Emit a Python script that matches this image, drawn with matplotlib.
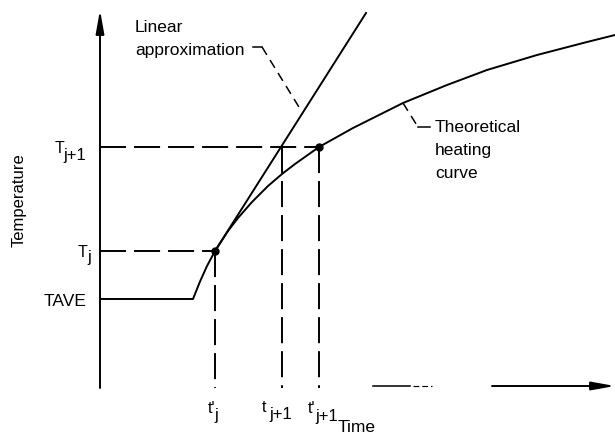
import matplotlib
matplotlib.use("Agg")
import matplotlib.pyplot as plt

# -----------------------------------
# FONTS
# -----------------------------------

plt.rcParams["font.family"] = ["Liberation Sans", "DejaVu Sans"]

# -----------------------------------
# HEATING CURVE (time, temperature)
# -----------------------------------

time_pts = [0, 93, 100, 107, 115, 128, 138, 152, 168, 182, 195,
            219, 253, 303, 347, 387, 437, 487, 515]
temp_pts = [88, 88, 105.5, 121, 136, 156, 169, 185, 201, 213, 223,
            240, 259, 284, 302, 317, 332, 345, 352]

# levels and times marked on the axes
T_ave = 88
T_j = 136
T_j1 = 240
t_j_prime = 115
t_j1 = 182
t_j1_prime = 219

# linear approximation: from (t_j', T_j) up to its top end
lin_time = [t_j_prime, 266]
lin_temp = [T_j, 374]

LW = 1.4
DASH = (0, (13.4, 4.1))
FS = 12.5

# -----------------------------------
# FIGURE
# -----------------------------------

fig = plt.figure(figsize=(6.15, 4.38), dpi=100)
ax = fig.add_axes([0, 0, 1, 1])
ax.set_xlim(-100, 515)
ax.set_ylim(-51, 387)
ax.axis("off")

# curve and tangent line
ax.plot(time_pts, temp_pts, color="black", lw=LW, solid_joinstyle="round")
ax.plot(lin_time, lin_temp, color="black", lw=LW)

# marked points
ax.plot([t_j_prime, t_j1_prime], [T_j, T_j1], "o", color="black",
        markersize=5)

# dashed guides to the axes
ax.plot([0, t_j1_prime], [T_j1, T_j1], color="black", lw=LW, linestyle=DASH)
ax.plot([0, t_j_prime], [T_j, T_j], color="black", lw=LW, linestyle=DASH)
for t, T in [(t_j_prime, T_j), (t_j1, T_j1), (t_j1_prime, T_j1)]:
    ax.plot([t, t], [T, -1], color="black", lw=LW, linestyle=DASH)

# -----------------------------------
# AXES WITH ARROWS
# -----------------------------------

arrow = dict(arrowstyle="-|>,head_length=1.4,head_width=0.25",
             color="black", lw=LW, mutation_scale=10,
             shrinkA=0, shrinkB=0)
ax.annotate("", xy=(0, 377), xytext=(0, -1), arrowprops=arrow)
ax.annotate("", xy=(515, 1), xytext=(392, 1), arrowprops=arrow)
ax.plot([273, 310], [1, 1], color="black", lw=LW * 0.8)
ax.plot([313, 332], [1, 1], color="black", lw=LW * 0.6,
        linestyle=(0, (5, 2.5)))


# letter with a lowered index beside it
def indexed(x_main, x_sub, y, main, sub, sub_drop=7):
    ax.text(x_main, y, main, ha="left", va="baseline", fontsize=11.5)
    ax.text(x_sub, y - sub_drop, sub, ha="left", va="baseline",
            fontsize=12)


# -----------------------------------
# LABELS
# -----------------------------------

ax.text(-81, 187, "Temperature", rotation=90, ha="center", va="center",
        fontsize=12)

indexed(-45, -37, T_j1 - 6, "T", "j+1")
indexed(-22, -13, T_j - 6, "T", "j", sub_drop=5)
ax.text(-13, T_ave - 7, "TAVE", ha="right", va="baseline", fontsize=FS)

indexed(t_j_prime - 7, t_j_prime - 1, -26, "t'", "j")
indexed(t_j1 - 20, t_j1 - 13, -25, "t", "j+1")
indexed(t_j1_prime - 11, t_j1_prime - 4, -26, "t'", "j+1", sub_drop=8)
ax.text(257, -41, "Time", ha="center", va="center", fontsize=FS)

# callout: linear approximation
ax.text(35, 360, "Linear", ha="left", va="center", fontsize=FS)
ax.text(35, 337, "approximation", ha="left", va="center", fontsize=FS)
ax.plot([153, 162], [340, 340], color="black", lw=1.1)
ax.plot([162, 202], [340, 275], color="black", lw=1.1,
        linestyle=(0, (6, 4)))

# callout: theoretical heating curve
ax.plot([time_pts[13], 318], [temp_pts[13], 260], color="black", lw=1.1,
        linestyle=(0, (6, 4)))
ax.plot([318, 330], [260, 260], color="black", lw=1.1)
ax.text(335, 260, "Theoretical", ha="left", va="center", fontsize=FS)
ax.text(335, 236, "heating", ha="left", va="center", fontsize=FS)
ax.text(335, 213, "curve", ha="left", va="center", fontsize=FS)

fig.savefig("out.png", dpi=100)
